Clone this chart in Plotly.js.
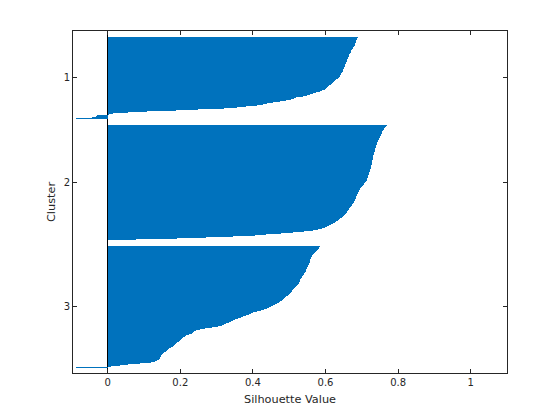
<!DOCTYPE html>
<html>
<head>
<meta charset="utf-8">
<script src="https://cdn.plot.ly/plotly-3.0.1.min.js"></script>
<style>html,body{margin:0;padding:0;background:#fff;}#chart{width:560px;height:420px;}</style>
</head>
<body>
<div id="chart"></div>
<script>
// Cluster names (y tick labels)
var clusterNames = ['1', '2', '3'];

// Silhouette values per cluster, sorted descending (as drawn top to bottom)
var cluster1 = [
  0.690, 0.688, 0.686, 0.685, 0.684, 0.683, 0.682, 0.681, 0.680, 0.678,
  0.676, 0.675, 0.673, 0.671, 0.670, 0.669, 0.668, 0.666, 0.665, 0.664,
  0.663, 0.661, 0.660, 0.659, 0.658, 0.657, 0.656, 0.655, 0.655, 0.653,
  0.652, 0.651, 0.649, 0.648, 0.647, 0.645, 0.644, 0.642, 0.641, 0.639,
  0.637, 0.634, 0.630, 0.626, 0.623, 0.620, 0.617, 0.614, 0.611, 0.607,
  0.603, 0.600, 0.598, 0.590, 0.584, 0.575, 0.566, 0.556, 0.548, 0.538,
  0.520, 0.512, 0.506, 0.492, 0.474, 0.455, 0.440, 0.428, 0.410, 0.382,
  0.355, 0.320, 0.250, 0.189, 0.107, 0.056, 0.015, 0.004, -0.030, -0.032,
  -0.042, -0.088
];
var cluster2 = [
  0.770, 0.767, 0.764, 0.762, 0.760, 0.758, 0.757, 0.756, 0.755, 0.753,
  0.752, 0.750, 0.749, 0.748, 0.746, 0.745, 0.744, 0.743, 0.742, 0.741,
  0.740, 0.739, 0.738, 0.737, 0.736, 0.736, 0.735, 0.734, 0.733, 0.733,
  0.732, 0.731, 0.731, 0.730, 0.730, 0.729, 0.728, 0.728, 0.727, 0.727,
  0.726, 0.725, 0.725, 0.724, 0.723, 0.722, 0.722, 0.721, 0.720, 0.719,
  0.718, 0.717, 0.716, 0.715, 0.714, 0.713, 0.712, 0.710, 0.707, 0.705,
  0.703, 0.700, 0.698, 0.696, 0.694, 0.692, 0.691, 0.690, 0.690, 0.688,
  0.687, 0.685, 0.684, 0.683, 0.681, 0.680, 0.679, 0.678, 0.676, 0.674,
  0.672, 0.670, 0.668, 0.666, 0.664, 0.662, 0.660, 0.658, 0.656, 0.654,
  0.651, 0.648, 0.645, 0.641, 0.637, 0.634, 0.630, 0.625, 0.621, 0.616,
  0.610, 0.605, 0.598, 0.590, 0.578, 0.566, 0.540, 0.510, 0.478, 0.437,
  0.405, 0.345, 0.270, 0.190, 0.079
];
var cluster3 = [
  0.586, 0.583, 0.581, 0.578, 0.576, 0.574, 0.571, 0.569, 0.566, 0.564,
  0.563, 0.561, 0.560, 0.558, 0.557, 0.556, 0.556, 0.555, 0.555, 0.553,
  0.551, 0.549, 0.548, 0.547, 0.546, 0.545, 0.543, 0.542, 0.540, 0.538,
  0.536, 0.534, 0.533, 0.531, 0.530, 0.529, 0.527, 0.526, 0.524, 0.521,
  0.518, 0.515, 0.513, 0.511, 0.509, 0.508, 0.505, 0.502, 0.499, 0.496,
  0.492, 0.488, 0.485, 0.482, 0.479, 0.476, 0.471, 0.466, 0.461, 0.456,
  0.451, 0.445, 0.438, 0.430, 0.421, 0.410, 0.401, 0.395, 0.389, 0.380,
  0.373, 0.367, 0.360, 0.352, 0.345, 0.339, 0.334, 0.327, 0.319, 0.314,
  0.305, 0.286, 0.268, 0.255, 0.244, 0.239, 0.235, 0.231, 0.224, 0.217,
  0.212, 0.208, 0.205, 0.203, 0.199, 0.196, 0.191, 0.188, 0.185, 0.183,
  0.180, 0.174, 0.170, 0.165, 0.163, 0.160, 0.155, 0.152, 0.150, 0.148,
  0.146, 0.145, 0.143, 0.140, 0.136, 0.131, 0.120, 0.090, 0.055, 0.035,
  0.008, -0.088
];
var xTickVals = [0, 0.2, 0.4, 0.6, 0.8, 1];
var xTickText = ['0', '0.2', '0.4', '0.6', '0.8', '1'];

// MATLAB-style silhouette layout: clusters separated by blank rows
var clusters = [cluster1, cluster2, cluster3];
var n = cluster1.length + cluster2.length + cluster3.length;
var space = Math.max(Math.floor(0.02 * n), 2);
var xs = [], ys = [], tcks = [];
var pos = space;
clusters.forEach(function (vals) {
  var start = pos + 1;
  vals.forEach(function (v) { pos += 1; xs.push(v); ys.push(pos); });
  tcks.push((start + pos) / 2);
  pos += space;
});
var total = pos;

var axisColor = '#262626';
var fontFam = 'DejaVu Sans, sans-serif';

var data = [{
  type: 'bar',
  orientation: 'h',
  x: xs,
  y: ys,
  width: 1,
  marker: { color: '#0072BD', line: { width: 0 } },
  hoverinfo: 'none'
}];

var layout = {
  width: 560,
  height: 420,
  margin: { l: 73, r: 53, t: 31, b: 47, pad: 0 },
  paper_bgcolor: '#ffffff',
  plot_bgcolor: '#ffffff',
  showlegend: false,
  bargap: 0,
  font: { family: fontFam, size: 10, color: axisColor },
  xaxis: {
    range: [-0.0956, 1.1],
    tickvals: xTickVals,
    ticktext: xTickText,
    ticks: 'inside',
    ticklen: 4,
    tickwidth: 1,
    tickcolor: axisColor,
    showline: true,
    linecolor: axisColor,
    linewidth: 1,
    mirror: 'ticks',
    showgrid: false,
    zeroline: true,
    zerolinecolor: '#000000',
    zerolinewidth: 1,
    tickfont: { family: fontFam, size: 10, color: axisColor },
    title: { text: 'Silhouette Value', font: { family: fontFam, size: 11.3, color: axisColor }, standoff: 8 }
  },
  yaxis: {
    range: [total, 1],
    tickvals: tcks,
    ticktext: clusterNames,
    ticks: 'inside',
    ticklen: 4,
    tickwidth: 1,
    tickcolor: axisColor,
    showline: true,
    linecolor: axisColor,
    linewidth: 1,
    mirror: 'ticks',
    showgrid: false,
    zeroline: false,
    tickfont: { family: fontFam, size: 10, color: axisColor },
    title: { text: 'Cluster', font: { family: fontFam, size: 11.3, color: axisColor }, standoff: 5 }
  }
};

Plotly.newPlot('chart', data, layout, { staticPlot: true, displayModeBar: false });
</script>
</body>
</html>
